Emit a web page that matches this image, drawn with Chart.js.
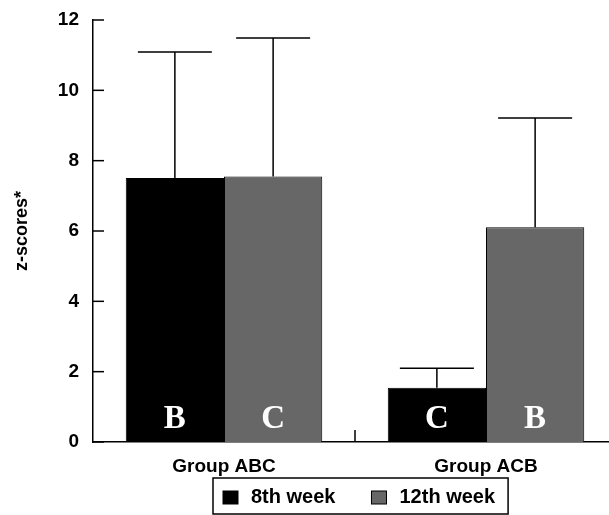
<!DOCTYPE html>
<html>
<head>
<meta charset="utf-8">
<script src="https://cdn.jsdelivr.net/npm/chart.js"></script>
<style>
body { margin: 0; background: #fff; }
#caixa { width: 609px; height: 515px; overflow: hidden; }
</style>
</head>
<body>
<div id="caixa"><canvas id="grafico" width="617" height="515"></canvas></div>
<script>
var grupos = ['Group ABC', 'Group ACB'];
var semana8 = [7.51, 1.54];
var semana12 = [7.55, 6.11];
var erro8 = [11.09, 2.1];
var erro12 = [11.49, 9.21];
var letras8 = ['B', 'C'];
var letras12 = ['C', 'B'];
var ticksY = [0, 2, 4, 6, 8, 10, 12];

var fonteSans = "'Liberation Sans', Arial, sans-serif";

// barras de erro, letras, ticks para dentro e legenda com caixa
var extras = {
    id: 'extras',
    afterDatasetsDraw: function (chart) {
        var ctx = chart.ctx;
        var y = chart.scales.y;
        var x = chart.scales.x;
        var erros = [erro8, erro12];
        var letras = [letras8, letras12];

        ctx.save();
        ctx.strokeStyle = '#000';
        ctx.lineWidth = 1.5;
        chart.data.datasets.forEach(function (ds, i) {
            var meta = chart.getDatasetMeta(i);
            meta.data.forEach(function (barra, j) {
                var topo = y.getPixelForValue(erros[i][j]);
                ctx.beginPath();
                ctx.moveTo(barra.x, barra.y);
                ctx.lineTo(barra.x, topo);
                ctx.moveTo(barra.x - 37, topo);
                ctx.lineTo(barra.x + 37, topo);
                ctx.stroke();

                ctx.fillStyle = '#fff';
                ctx.font = "bold 33px 'Liberation Serif', 'Times New Roman', serif";
                ctx.textAlign = 'center';
                ctx.textBaseline = 'middle';
                ctx.fillText(letras[i][j], barra.x, y.getPixelForValue(0) - 23);
            });
        });

        // ticks do eixo y para dentro
        ticksY.forEach(function (v) {
            var py = y.getPixelForValue(v);
            ctx.beginPath();
            ctx.moveTo(chart.chartArea.left, py);
            ctx.lineTo(chart.chartArea.left + 11, py);
            ctx.stroke();
        });

        // tick do meio no eixo x
        var meio = (x.getPixelForValue(0) + x.getPixelForValue(1)) / 2;
        ctx.beginPath();
        ctx.moveTo(meio, chart.chartArea.bottom);
        ctx.lineTo(meio, chart.chartArea.bottom - 12);
        ctx.stroke();

        // legenda
        ctx.font = 'bold 20px ' + fonteSans;
        ctx.textAlign = 'left';
        ctx.textBaseline = 'middle';
        var px = chart.chartArea.left + 130;
        var cy = 497;
        var inicio = px - 10;
        chart.data.datasets.forEach(function (ds, i) {
            ctx.fillStyle = ds.backgroundColor;
            ctx.fillRect(px, cy - 6, 15, 13);
            ctx.lineWidth = 1;
            ctx.strokeRect(px, cy - 6, 15, 13);
            px += 28;
            ctx.fillStyle = '#000';
            ctx.fillText(ds.label, px, cy);
            px += ctx.measureText(ds.label).width + 36;
        });
        ctx.lineWidth = 1.5;
        ctx.strokeRect(inicio, 478, px - 36 + 13 - inicio, 36);
        ctx.restore();
    }
};

var grafico = new Chart(document.getElementById('grafico').getContext('2d'), {
    type: 'bar',
    data: {
        labels: grupos,
        datasets: [{
            label: '8th week',
            data: semana8,
            backgroundColor: '#000000',
            borderColor: '#000000',
            borderWidth: 1
        }, {
            label: '12th week',
            data: semana12,
            backgroundColor: '#676767',
            borderColor: '#000000',
            borderWidth: 1
        }]
    },
    options: {
        responsive: false,
        animation: false,
        layout: {
            padding: { top: 20, right: 0, bottom: 0, left: 0 }
        },
        plugins: {
            legend: { display: false },
            tooltip: { enabled: false }
        },
        datasets: {
            bar: {
                categoryPercentage: 0.75,
                barPercentage: 1
            }
        },
        scales: {
            x: {
                grid: { display: false, drawTicks: false },
                border: { color: '#000', width: 1.5 },
                ticks: {
                    color: '#000',
                    padding: 13,
                    font: { family: fonteSans, size: 19, weight: 'bold' }
                },
                afterFit: function (escala) {
                    escala.height = 73;
                    escala.paddingLeft = 0;
                    escala.paddingRight = 0;
                }
            },
            y: {
                min: 0,
                max: 12,
                grid: { display: false, drawTicks: false },
                border: { color: '#000', width: 1.5 },
                ticks: {
                    stepSize: 2,
                    color: '#000',
                    padding: 14,
                    font: { family: fonteSans, size: 19, weight: 'bold' }
                },
                title: {
                    display: true,
                    text: 'z-scores*',
                    color: '#000',
                    padding: { top: 11, bottom: 0 },
                    font: { family: fonteSans, size: 18, weight: 'bold' }
                },
                afterFit: function (escala) {
                    escala.width = 93;
                    escala.paddingTop = 0;
                    escala.paddingBottom = 0;
                }
            }
        }
    },
    plugins: [extras]
});
</script>
</body>
</html>
